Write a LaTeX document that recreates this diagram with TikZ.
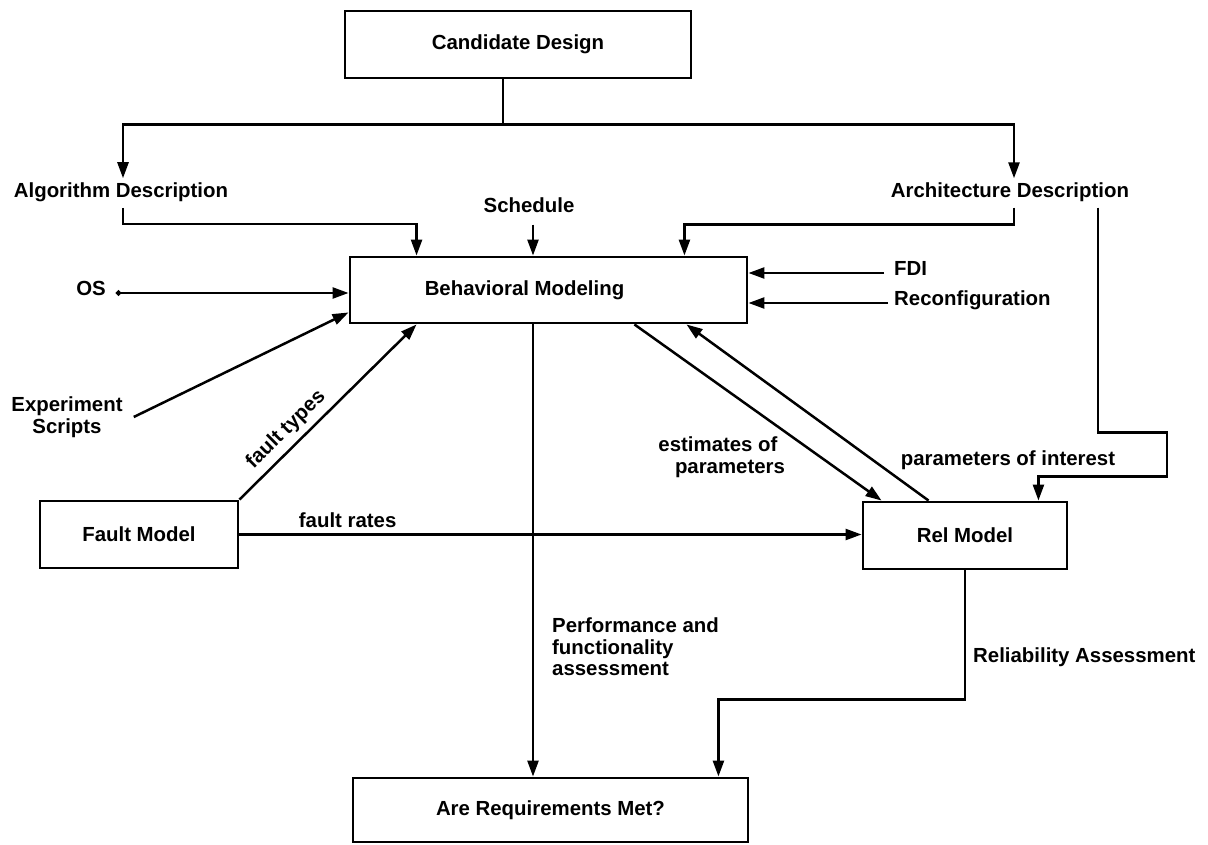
\documentclass[tikz,border=0pt]{standalone}
\usepackage{fontspec}
\setmainfont{Liberation Sans}
\usetikzlibrary{arrows.meta}
\begin{document}
\begin{tikzpicture}[x=1pt,y=-1pt,
  every node/.style={font=\fontsize{20.4}{21.5}\selectfont\bfseries},
  box/.style={draw, line width=2.9pt, inner sep=0pt},
  conn/.style={line width=2.5pt},
  arr/.style={conn, -{Triangle[length=16pt,width=11pt]}},
  lbl/.style={inner sep=0pt}]
\useasboundingbox (0,0) rectangle (1208,845);

% boxes
\node[box, minimum width=346pt, minimum height=67pt] (cand) at (518,44.5) {Candidate Design};
\node[box, minimum width=397pt, minimum height=66pt,
      label={[lbl,xshift=-24pt]center:Behavioral Modeling}] (beh) at (548.5,290) {};
\node[box, minimum width=198pt, minimum height=67pt] (fault) at (139,534.5) {Fault Model};
\node[box, minimum width=204pt, minimum height=67pt] (rel) at (965,535.5) {Rel Model};
\node[box, minimum width=395pt, minimum height=64pt] (req) at (550.5,810) {Are Requirements Met?};

% free text
\node[lbl] (alg) at (121,192) {Algorithm Description};
\node[lbl] (arch) at (1010,192) {Architecture Description};
\node[lbl] (sched) at (529,205) {Schedule};
\node[lbl, anchor=mid west] (fdi) at (894,273) {FDI};
\node[lbl, anchor=mid west] (reconf) at (894,303) {Reconfiguration};
\node[lbl, anchor=mid east] (os) at (106,293) {OS};
\node[lbl, align=center] (exp) at (67,417) {Experiment\\Scripts};
\node[lbl, align=center] (est) at (718,457) {estimates of\\\hspace*{24pt}parameters};
\node[lbl, anchor=mid] (poi) at (1008,463) {parameters of interest};
\node[lbl, align=left, anchor=west] (perf) at (552,647) {Performance and\\functionality\\assessment};
\node[lbl, anchor=mid west] (relass) at (973,660) {Reliability Assessment};

% design split
\draw[conn] ([xshift=-15pt]cand.south) -- ++(0,45) coordinate (fork);
\draw[arr] (fork) -| ([xshift=2pt,yshift=4pt]alg.north);
\draw[arr] (fork) -| ([xshift=4pt,yshift=4pt]arch.north);

% inputs to behavioral modeling
\draw[arr] ([xshift=2pt,yshift=-6pt]alg.south) -- ++(0,16) -| ([xshift=68pt]beh.north west);
\draw[arr] ([xshift=4pt,yshift=-6pt]arch.south) -- ++(0,17) -| ([xshift=-64pt]beh.north east);
\draw[arr] ([xshift=4pt,yshift=-12pt]sched.south) -- ([xshift=4pt]sched.south |- beh.north);
\draw[arr] ([xshift=-10pt]fdi.mid west) -- (fdi.mid west -| beh.east);
\draw[arr] ([xshift=-6pt]reconf.mid west) -- (reconf.mid west -| beh.east);
\draw[conn, {Circle[length=5pt]}-{Triangle[length=16pt,width=11pt]}]
  ([xshift=10pt]os.mid east) -- (os.mid east -| beh.west);
\draw[arr] ([xshift=11pt]exp.east) -- ([yshift=12pt]beh.south west);
\draw[arr] (fault.north east) -- ([xshift=68pt]beh.south west)
  node[lbl, pos=0.33, sloped, above=6pt] (ft) {fault types};

% behavioral modeling <-> rel model
\draw[arr] ([xshift=-114pt]beh.south east) -- ([xshift=20pt]rel.north west);
\draw[arr] ([xshift=67pt]rel.north west) -- ([xshift=-62pt]beh.south east);
\coordinate (ap) at ([xshift=-31pt,yshift=-6pt]arch.south east);
\draw[arr] (ap) -- ++(0,225) -- ++(69,0) -- ++(0,44) -| ([xshift=-30pt]rel.north east);
\draw[arr] (fault.east) -- (fault.east -| rel.west)
  node[lbl, pos=0.174, above=6pt] (fr) {fault rates};

% assessments
\coordinate (bo) at ([xshift=-15.5pt]beh.south);
\draw[arr] (bo) -- (bo |- req.north);
\draw[arr] (rel.south) -- ++(0,129) -| ([xshift=-31pt]req.north east);
\end{tikzpicture}
\end{document}
